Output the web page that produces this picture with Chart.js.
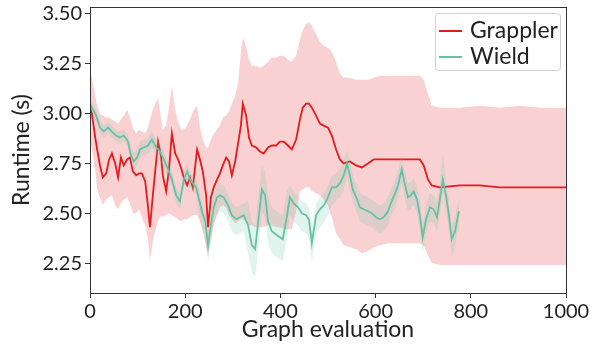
<!DOCTYPE html>
<html>
<head>
<meta charset="utf-8">
<script src="https://cdn.jsdelivr.net/npm/chart.js@4"></script>
<style>
html,body{margin:0;padding:0;background:#fff;}
#c{display:block;}
</style>
</head>
<body>
<canvas id="c" width="598" height="345"></canvas>
<script>
const xTicks = [0, 200, 400, 600, 800, 1000];
const yTicks = [2.25, 2.50, 2.75, 3.00, 3.25, 3.50];
const seriesNames = ["Grappler", "Wield"];

const grapplerX = [0,4,11,15,21,27,34,40,46,53,59,65,71,78,84,90,97,103,109,116,122,126,132,139,143,149,153,160,166,172,179,185,191,197,204,210,216,225,231,237,244,248,254,260,267,273,279,286,292,298,305,311,317,321,328,334,340,349,357,365,374,382,391,399,407,416,424,433,441,447,454,460,466,475,483,491,500,508,517,525,533,546,559,571,584,596,609,630,651,672,693,701,710,718,735,777,819,861,903,945,1000];
const grapplerMean = [3.03,3.00,2.88,2.82,2.74,2.68,2.70,2.77,2.80,2.75, 2.68,2.78,2.74,2.77,2.78,2.71,2.69,2.70,2.70,2.66, 2.53,2.43,2.59,2.76,2.86,2.79,2.69,2.61,2.72,2.90, 2.80,2.77,2.73,2.68,2.64,2.68,2.63,2.82,2.77,2.71, 2.59,2.43,2.58,2.63,2.67,2.70,2.74,2.78,2.76,2.69, 2.76,2.85,2.94,3.05,2.99,2.88,2.84,2.83,2.81,2.80, 2.83,2.84,2.84,2.86,2.86,2.84,2.82,2.87,2.97,3.03, 3.05,3.05,3.03,2.99,2.95,2.94,2.93,2.89,2.82,2.77, 2.75,2.76,2.74,2.73,2.75,2.77,2.77,2.77,2.77,2.77, 2.77,2.74,2.67,2.64,2.63,2.64,2.64,2.63,2.63,2.63, 2.63];
const grapplerHigh = [3.21,3.18,3.09,3.04,3.00,2.99,2.98,2.98,2.97,2.96, 2.95,2.97,2.99,3.02,2.98,2.93,2.90,2.92,2.91,2.90, 2.93,2.97,3.02,3.06,3.08,2.98,2.92,2.94,3.03,3.14, 3.02,2.96,2.92,2.92,2.94,2.97,3.01,3.04,2.93,2.87, 2.83,2.83,2.87,2.90,2.92,2.94,2.98,2.99,3.01,3.05, 3.09,3.15,3.31,3.38,3.34,3.27,3.24,3.24,3.23,3.24, 3.26,3.28,3.28,3.29,3.29,3.27,3.26,3.29,3.37,3.42, 3.45,3.46,3.44,3.40,3.36,3.34,3.33,3.31,3.26,3.20, 3.18,3.18,3.17,3.17,3.17,3.18,3.19,3.19,3.19,3.19, 3.19,3.17,3.10,3.04,3.03,3.03,3.04,3.03,3.04,3.03, 3.03];
const grapplerLow = [2.87,2.82,2.72,2.62,2.58,2.54,2.57,2.58,2.59,2.54, 2.52,2.55,2.57,2.58,2.55,2.50,2.50,2.52,2.48,2.44, 2.37,2.26,2.36,2.43,2.46,2.49,2.48,2.49,2.50,2.49, 2.48,2.47,2.46,2.47,2.47,2.48,2.49,2.49,2.46,2.41, 2.33,2.29,2.37,2.44,2.49,2.53,2.54,2.53,2.49,2.47, 2.45,2.46,2.47,2.47,2.46,2.44,2.44,2.43,2.43,2.43, 2.44,2.44,2.43,2.43,2.42,2.42,2.42,2.51,2.61,2.62, 2.63,2.63,2.61,2.60,2.59,2.57,2.54,2.48,2.40,2.37, 2.34,2.33,2.32,2.30,2.31,2.33,2.34,2.35,2.35,2.35, 2.35,2.34,2.29,2.25,2.24,2.24,2.24,2.24,2.24,2.24, 2.24];

const wieldX = [0,6,13,21,29,38,46,55,63,71, 80,86,92,99,105,113,122,130,139,147, 155,164,172,181,189,197,204,210,216,223, 229,235,242,248,254,260,267,273,281,290, 298,307,315,323,332,340,347,353,361,368, 374,382,393,405,414,420,428,437,445,454, 460,466,475,483,491,500,508,517,525,533, 540,546,552,561,567,575,584,592,601,609, 617,626,632,641,647,655,662,668,674,680, 687,693,699,706,714,722,729,735,741,748, 754,760,767,775];
const wieldMean = [3.05,3.02,2.99,2.93,2.91,2.93,2.91,2.89,2.88,2.89, 2.86,2.79,2.76,2.78,2.82,2.83,2.84,2.87,2.83,2.81, 2.77,2.72,2.67,2.59,2.56,2.67,2.71,2.67,2.65,2.63, 2.57,2.51,2.46,2.34,2.44,2.53,2.58,2.59,2.58,2.54, 2.49,2.47,2.48,2.49,2.44,2.34,2.32,2.45,2.62,2.59, 2.46,2.41,2.39,2.37,2.49,2.58,2.55,2.53,2.50,2.49, 2.47,2.35,2.49,2.52,2.54,2.58,2.63,2.63,2.65,2.69, 2.75,2.69,2.62,2.57,2.53,2.52,2.51,2.50,2.48,2.47, 2.48,2.51,2.55,2.60,2.64,2.72,2.64,2.58,2.59,2.61, 2.57,2.49,2.38,2.47,2.53,2.52,2.48,2.57,2.67,2.59, 2.49,2.37,2.41,2.51];
const wieldHigh = [3.08,3.05,3.02,2.96,2.94,2.96,2.94,2.92,2.91,2.92, 2.89,2.83,2.80,2.82,2.86,2.87,2.88,2.91,2.87,2.85, 2.81,2.76,2.71,2.63,2.60,2.71,2.75,2.71,2.69,2.67, 2.62,2.56,2.51,2.39,2.49,2.59,2.64,2.65,2.64,2.60, 2.55,2.53,2.54,2.55,2.56,2.46,2.44,2.57,2.74,2.71, 2.58,2.53,2.51,2.49,2.61,2.64,2.61,2.59,2.56,2.55, 2.53,2.41,2.55,2.58,2.60,2.64,2.69,2.70,2.72,2.76, 2.82,2.76,2.69,2.64,2.60,2.59,2.58,2.57,2.55,2.54, 2.55,2.58,2.62,2.67,2.71,2.79,2.71,2.65,2.66,2.68, 2.64,2.56,2.45,2.54,2.60,2.59,2.55,2.64,2.80,2.66, 2.56,2.44,2.48,2.58];
const wieldLow = [3.02,2.99,2.96,2.90,2.88,2.90,2.88,2.86,2.85,2.86, 2.83,2.75,2.72,2.74,2.78,2.79,2.80,2.83,2.79,2.77, 2.73,2.68,2.63,2.55,2.52,2.63,2.67,2.63,2.61,2.59, 2.49,2.43,2.38,2.26,2.36,2.45,2.50,2.51,2.50,2.46, 2.41,2.39,2.40,2.41,2.30,2.20,2.18,2.31,2.51,2.48, 2.35,2.30,2.28,2.26,2.38,2.49,2.46,2.44,2.41,2.40, 2.38,2.26,2.40,2.43,2.45,2.49,2.54,2.56,2.58,2.62, 2.68,2.62,2.55,2.50,2.46,2.45,2.44,2.43,2.41,2.40, 2.41,2.44,2.48,2.53,2.57,2.65,2.57,2.51,2.52,2.54, 2.50,2.42,2.30,2.40,2.46,2.45,2.41,2.50,2.60,2.52, 2.42,2.28,2.34,2.44];

const RED = 'rgb(228,26,28)';
const RED_BAND = 'rgba(228,26,28,0.2)';
const TEAL = 'rgb(102,194,165)';
const TEAL_BAND = 'rgba(102,194,165,0.2)';
const FONT = 'Lato';

const pts = (xs, ys) => xs.map((x, i) => ({x: x, y: ys[i]}));

const hidden = {borderColor: 'rgba(0,0,0,0)', borderWidth: 0, pointRadius: 0, fill: false};

const framePlugin = {
  id: 'frame',
  afterDraw(chart) {
    const {ctx, chartArea: a} = chart;
    ctx.save();
    ctx.strokeStyle = '#333';
    ctx.lineWidth = 1;
    ctx.strokeRect(a.left + 0.5, a.top + 0.5, a.right - a.left, a.bottom - a.top);
    ctx.restore();
  }
};

const legendPlugin = {
  id: 'insideLegend',
  afterDraw(chart) {
    const {ctx, chartArea: a} = chart;
    const bx = a.right - 131, by = a.top + 6, bw = 125, bh = 57;
    ctx.save();
    ctx.fillStyle = 'rgba(255,255,255,0.8)';
    ctx.strokeStyle = '#d0d0d0';
    ctx.lineWidth = 1;
    ctx.beginPath();
    ctx.roundRect(bx + 0.5, by + 0.5, bw, bh, 3);
    ctx.fill();
    ctx.stroke();
    const items = [[seriesNames[0], RED], [seriesNames[1], TEAL]];
    ctx.font = '23px ' + FONT;
    ctx.textBaseline = 'middle';
    items.forEach((it, i) => {
      const yy = by + 18 + i * 26;
      ctx.strokeStyle = it[1];
      ctx.lineWidth = 2;
      ctx.beginPath();
      ctx.moveTo(bx + 4, yy);
      ctx.lineTo(bx + 27, yy);
      ctx.stroke();
      ctx.fillStyle = '#222';
      ctx.fillText(it[0], bx + 35, yy);
    });
    ctx.restore();
  }
};

new Chart(document.getElementById('c'), {
  type: 'line',
  data: {
    datasets: [
      Object.assign({label: 'gl', data: pts(grapplerX, grapplerLow), order: 10}, hidden),
      {label: 'gh', data: pts(grapplerX, grapplerHigh), order: 9, borderColor: 'rgba(0,0,0,0)', borderWidth: 0, pointRadius: 0, fill: 0, backgroundColor: RED_BAND},
      {label: seriesNames[0], data: pts(grapplerX, grapplerMean), order: 8, borderColor: RED, borderWidth: 1.8, pointRadius: 0, fill: false},
      Object.assign({label: 'wl', data: pts(wieldX, wieldLow), order: 7}, hidden),
      {label: 'wh', data: pts(wieldX, wieldHigh), order: 6, borderColor: 'rgba(0,0,0,0)', borderWidth: 0, pointRadius: 0, fill: 3, backgroundColor: TEAL_BAND},
      {label: seriesNames[1], data: pts(wieldX, wieldMean), order: 5, borderColor: TEAL, borderWidth: 1.8, pointRadius: 0, fill: false}
    ]
  },
  options: {
    responsive: false,
    animation: false,
    devicePixelRatio: 1,
    layout: {padding: {left: 0, right: 32, top: 7, bottom: 0}},
    plugins: {legend: {display: false}, tooltip: {enabled: false}},
    elements: {line: {tension: 0}},
    scales: {
      x: {
        type: 'linear', min: 0, max: 1000,
        afterBuildTicks: s => { s.ticks = xTicks.map(v => ({value: v})); },
        afterFit: s => { s.height = 52; s.paddingLeft = 0; s.paddingRight = 0; },
        grid: {drawOnChartArea: false, drawTicks: true, tickLength: 5, color: '#333'},
        border: {display: false},
        ticks: {color: '#222', font: {family: FONT, size: 20}, padding: 2, maxRotation: 0, callback: v => String(v)},
        title: {display: true, text: 'Graph evaluation', color: '#222', font: {family: FONT, size: 23}, padding: {top: 0, bottom: 2}}
      },
      y: {
        type: 'linear', min: 2.10, max: 3.535,
        afterBuildTicks: s => { s.ticks = yTicks.map(v => ({value: v})); },
        afterFit: s => { s.width = 90; s.paddingTop = 0; s.paddingBottom = 0; },
        grid: {drawOnChartArea: false, drawTicks: true, tickLength: 5, color: '#333'},
        border: {display: false},
        ticks: {color: '#222', font: {family: FONT, size: 20}, padding: 3, callback: v => Number(v).toFixed(2)},
        title: {display: true, text: 'Runtime (s)', color: '#222', font: {family: FONT, size: 23}, padding: {top: 8, bottom: 0}}
      }
    }
  },
  plugins: [framePlugin, legendPlugin]
});
</script>
</body>
</html>
